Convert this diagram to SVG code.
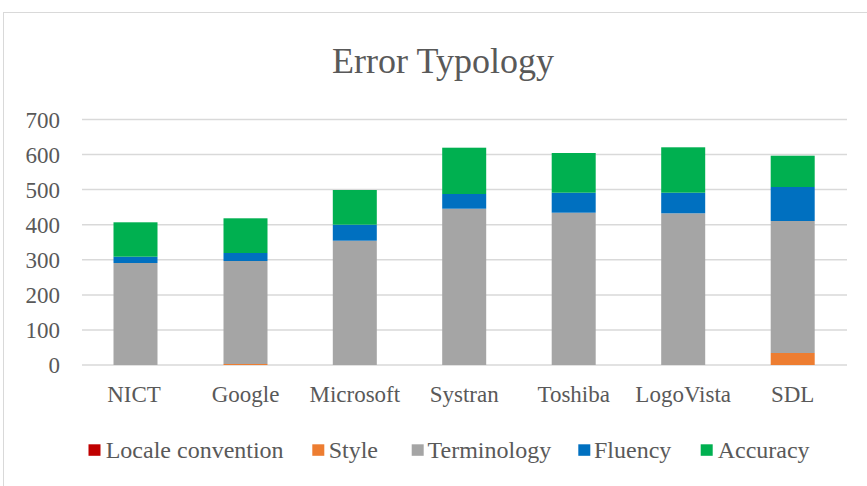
<svg xmlns="http://www.w3.org/2000/svg" width="867" height="486" viewBox="0 0 867 486">
<style>
text{font-family:"Liberation Serif","Times New Roman",serif;fill:#595959}
.ax{font-size:23px}
.yl{text-anchor:end}
.xl{text-anchor:middle}
.lg{font-size:24px}
.grid line{stroke:#d9d9d9;stroke-width:1.5}
.loc{fill:#C00000}.sty{fill:#ED7D31}.ter{fill:#A5A5A5}.flu{fill:#0070C0}.acc{fill:#00B050}
</style>
<rect x="3.5" y="12.5" width="900" height="520" fill="#ffffff" stroke="#d9d9d9" stroke-width="1"/>
<text x="443" y="73" font-size="36" text-anchor="middle">Error Typology</text>
<g id="gridlines" class="grid">
<line x1="82" y1="365" x2="847" y2="365"/>
<line x1="82" y1="329.9" x2="847" y2="329.9"/>
<line x1="82" y1="294.9" x2="847" y2="294.9"/>
<line x1="82" y1="259.8" x2="847" y2="259.8"/>
<line x1="82" y1="224.7" x2="847" y2="224.7"/>
<line x1="82" y1="189.6" x2="847" y2="189.6"/>
<line x1="82" y1="154.6" x2="847" y2="154.6"/>
<line x1="82" y1="119.5" x2="847" y2="119.5"/>
</g>
<g id="yaxis" class="ax yl">
<text x="60" y="373">0</text>
<text x="60" y="337.9">100</text>
<text x="60" y="302.9">200</text>
<text x="60" y="267.8">300</text>
<text x="60" y="232.7">400</text>
<text x="60" y="197.6">500</text>
<text x="60" y="162.6">600</text>
<text x="60" y="127.5">700</text>
</g>
<g id="bar-nict">
<rect class="ter" x="113.5" y="263" width="44" height="102"/>
<rect class="flu" x="113.5" y="256.7" width="44" height="6.3"/>
<rect class="acc" x="113.5" y="222.3" width="44" height="34.4"/>
</g>
<g id="bar-google">
<rect class="sty" x="223.5" y="364" width="44" height="1"/>
<rect class="ter" x="223.5" y="261" width="44" height="103"/>
<rect class="flu" x="223.5" y="253" width="44" height="8"/>
<rect class="acc" x="223.5" y="218.3" width="44" height="34.7"/>
</g>
<g id="bar-microsoft">
<rect class="ter" x="332.8" y="240.7" width="44" height="124.3"/>
<rect class="flu" x="332.8" y="224.7" width="44" height="16"/>
<rect class="acc" x="332.8" y="190" width="44" height="34.7"/>
</g>
<g id="bar-systran">
<rect class="ter" x="442.2" y="208.7" width="44" height="156.3"/>
<rect class="flu" x="442.2" y="194" width="44" height="14.7"/>
<rect class="acc" x="442.2" y="147.7" width="44" height="46.3"/>
</g>
<g id="bar-toshiba">
<rect class="ter" x="551.7" y="212.7" width="44" height="152.3"/>
<rect class="flu" x="551.7" y="192.7" width="44" height="20"/>
<rect class="acc" x="551.7" y="153" width="44" height="39.7"/>
</g>
<g id="bar-logovista">
<rect class="ter" x="661.2" y="213.3" width="44" height="151.7"/>
<rect class="flu" x="661.2" y="192.7" width="44" height="20.6"/>
<rect class="acc" x="661.2" y="147.3" width="44" height="45.4"/>
</g>
<g id="bar-sdl">
<rect class="sty" x="770.7" y="353" width="44" height="12"/>
<rect class="ter" x="770.7" y="221" width="44" height="132"/>
<rect class="flu" x="770.7" y="187" width="44" height="34"/>
<rect class="acc" x="770.7" y="155.7" width="44" height="31.3"/>
</g>
<g id="xaxis" class="ax xl">
<text x="134" y="401.7">NICT</text>
<text x="245.5" y="401.7">Google</text>
<text x="354.8" y="401.7">Microsoft</text>
<text x="464.2" y="401.7">Systran</text>
<text x="573.7" y="401.7">Toshiba</text>
<text x="683.2" y="401.7">LogoVista</text>
<text x="792.7" y="401.7">SDL</text>
</g>
<g id="legend" class="lg">
<rect class="loc" x="88.5" y="444.3" width="12" height="11.5"/>
<text x="105.7" y="458.3">Locale convention</text>
<rect class="sty" x="312.3" y="444.3" width="12" height="11.5"/>
<text x="328.7" y="458.3">Style</text>
<rect class="ter" x="411.7" y="444.3" width="12" height="11.5"/>
<text x="427.5" y="458.3">Terminology</text>
<rect class="flu" x="578.3" y="444.3" width="12" height="11.5"/>
<text x="594" y="458.3">Fluency</text>
<rect class="acc" x="700.7" y="444.3" width="12" height="11.5"/>
<text x="717.7" y="458.3">Accuracy</text>
</g>
</svg>
